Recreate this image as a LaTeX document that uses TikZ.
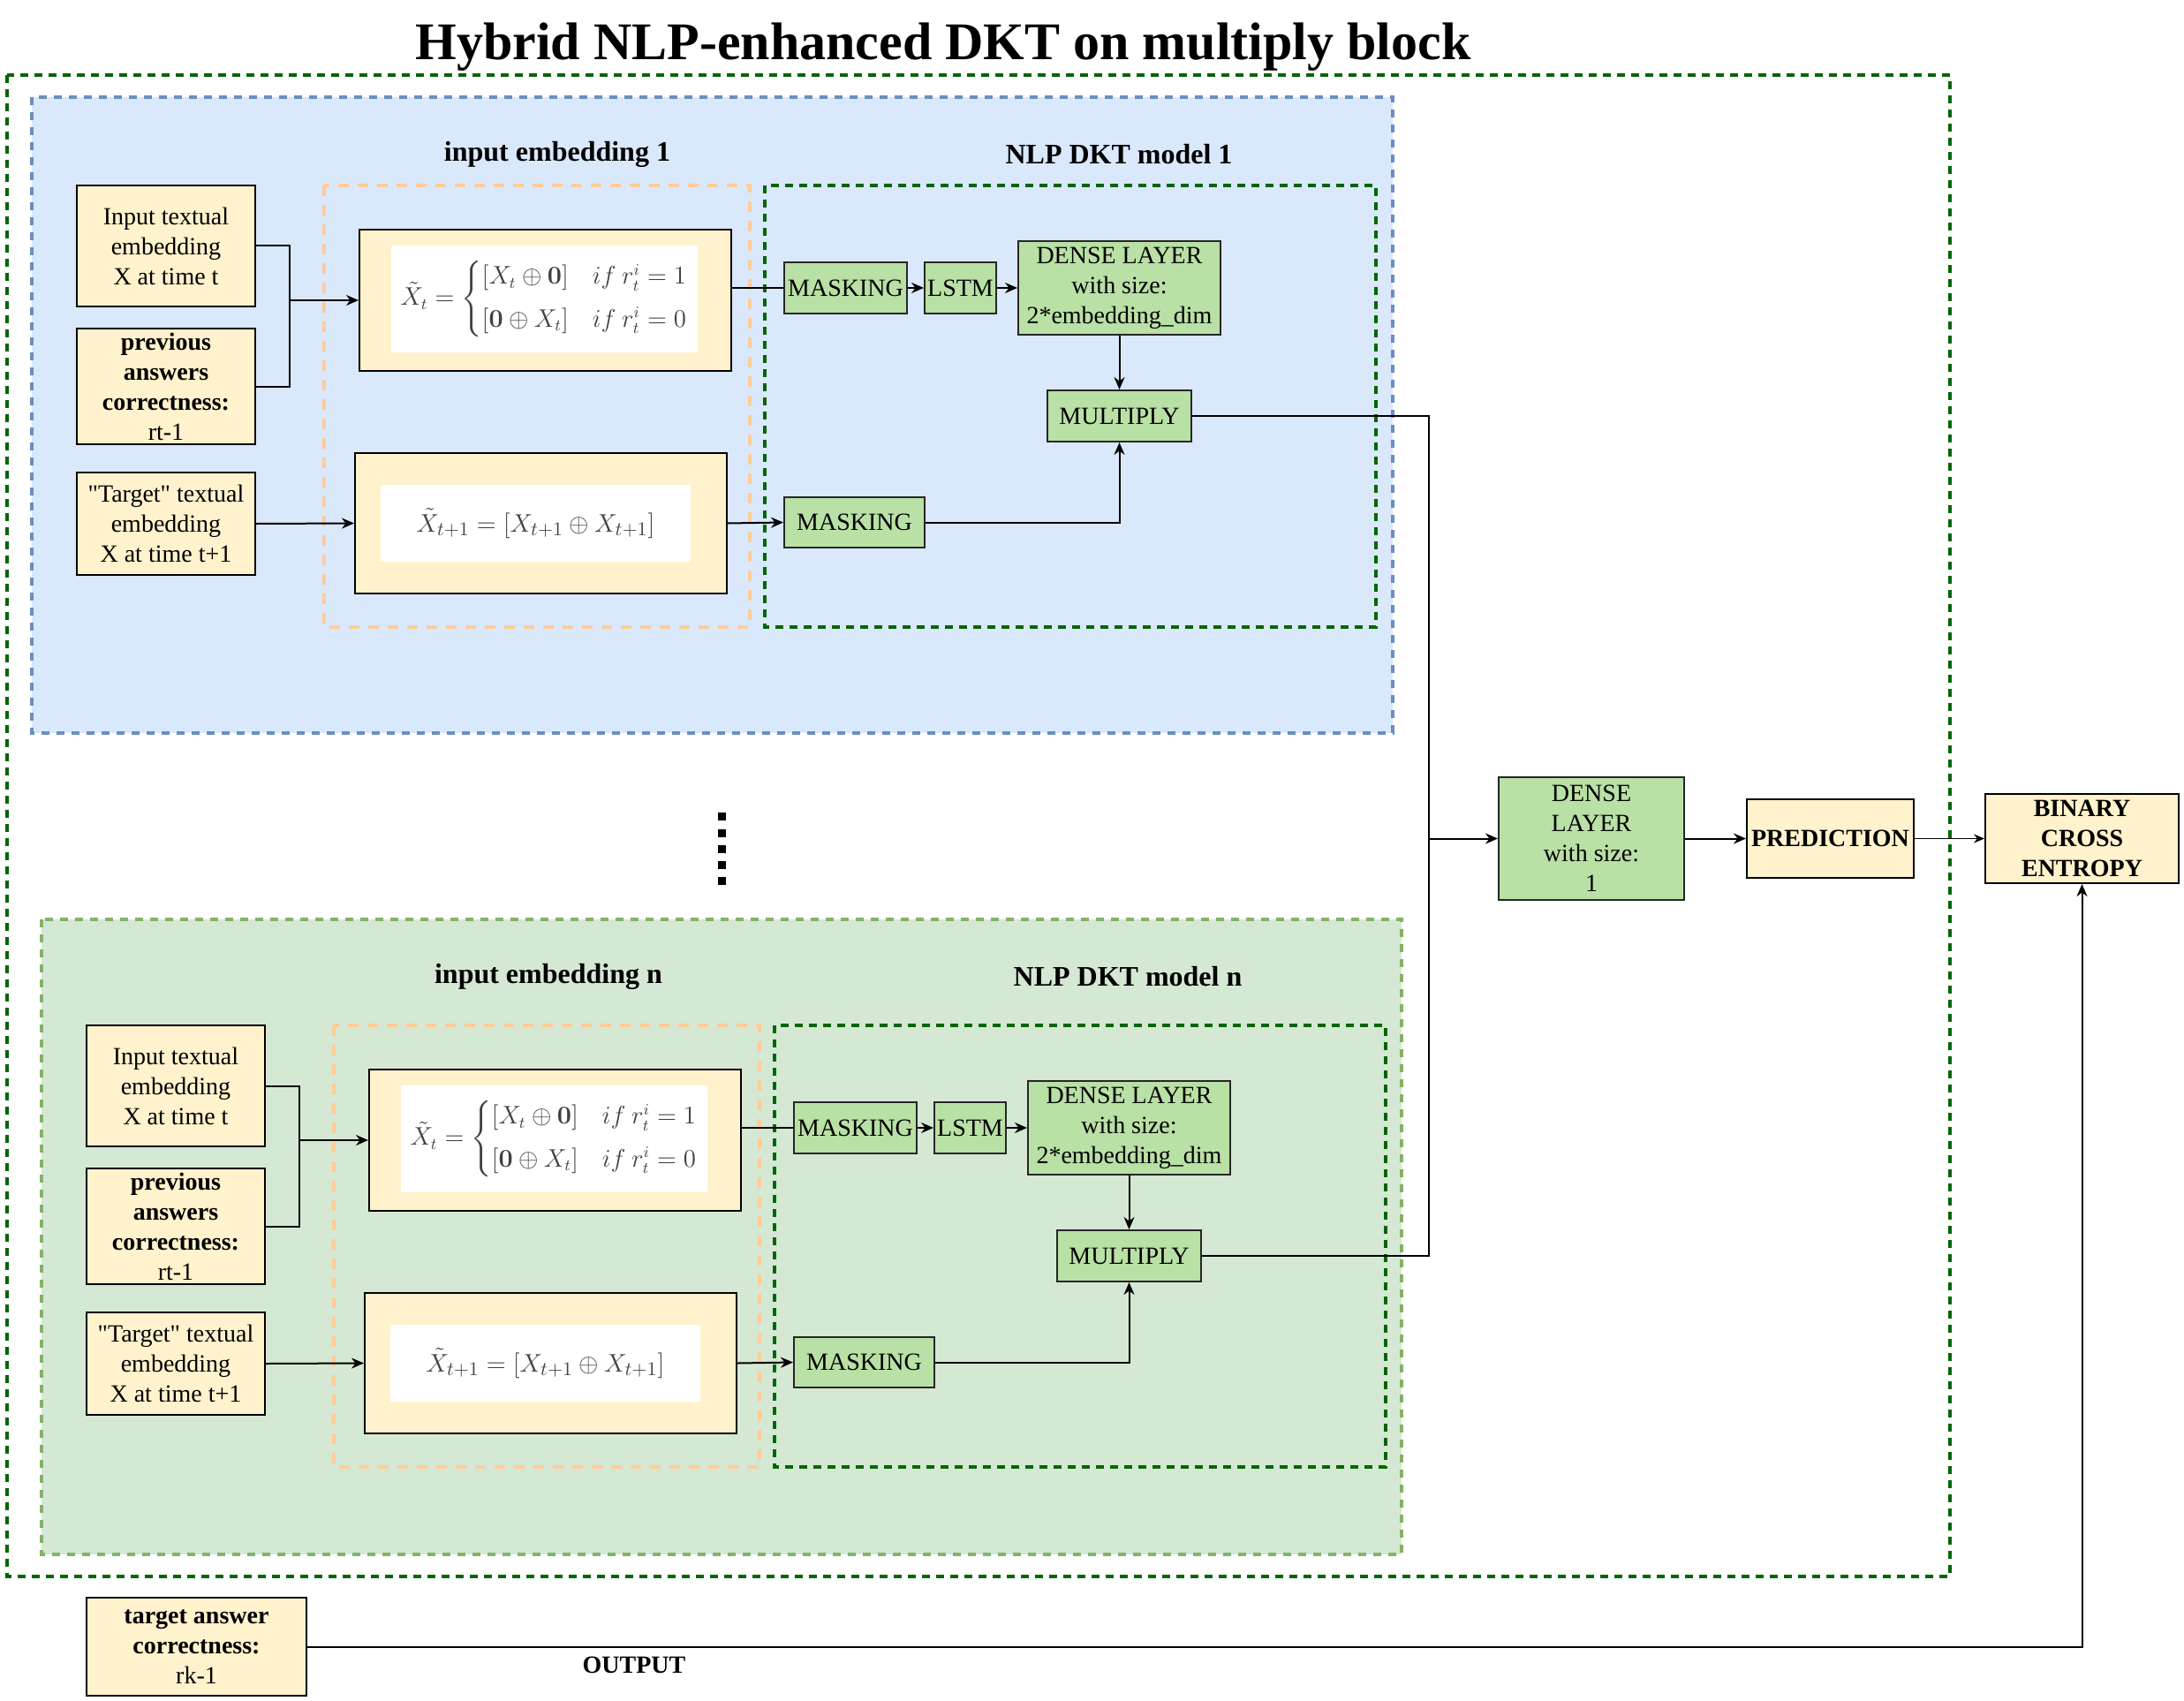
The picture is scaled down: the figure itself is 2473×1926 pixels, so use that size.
\documentclass[tikz,border=0pt]{standalone}
\usepackage[no-math]{fontspec}
\setmainfont{Liberation Serif}
\newfontfamily\qfont{Liberation Serif}
\usepackage{amsmath}
\usetikzlibrary{arrows.meta}
\definecolor{yfill}{HTML}{FFF2CC}
\definecolor{gfill}{HTML}{B9E0A5}
\definecolor{bluefill}{HTML}{DAE8FC}
\definecolor{bluestroke}{HTML}{6C8EBF}
\definecolor{greenfill}{HTML}{D5E8D4}
\definecolor{greenstroke}{HTML}{82B366}
\definecolor{orangestroke}{HTML}{FFCC99}
\definecolor{dkgreen}{HTML}{006600}
\tikzset{
  txt/.style={font=\fontsize{14}{17}\selectfont},
  ybox/.style={draw=black, line width=1pt, fill=yfill, align=center, inner sep=0pt, txt},
  gbox/.style={draw=black!85, line width=1pt, fill=gfill, align=center, inner sep=0pt, txt},
  wbox/.style={fill=white, inner sep=0pt, text=black!75, font=\fontsize{14}{17}\selectfont},
  arr/.style={-{Stealth[length=7pt,width=6pt]}, line width=1pt},
  ln/.style={line width=1pt},
  lbl/.style={font=\fontsize{16}{19}\selectfont\bfseries},
  outerdash/.style={line width=1.8pt, dash pattern=on 4.5pt off 3.5pt},
}
\newcommand{\dktblock}[3]{%
\begin{scope}[shift={(#2,#3)}]
  \draw[orangestroke, line width=1.6pt, dash pattern=on 6pt off 5pt] (367,210) rectangle (849,710);
  \draw[dkgreen, outerdash] (866,210) rectangle (1558,710);
  \node[ybox, minimum width=101pt, minimum height=68.5pt] (in#1) at (188,278.5) {Input textual\\embedding\\X at time t};
  \node[ybox, minimum width=101pt, minimum height=65.5pt] (prev#1) at (188,437.5) {\textbf{previous}\\\textbf{answers}\\\textbf{correctness:}\\rt-1};
  \node[ybox, minimum width=101pt, minimum height=58pt] (tgt#1) at (188,593) {{\qfont"}Target{\qfont"} textual\\embedding\\X at time t+1};
  \node[ybox, minimum width=210.5pt, minimum height=80pt] (fA#1) at (617.5,340) {};
  \node[wbox, minimum width=173.5pt, minimum height=60.5pt, font=\fontsize{13.5}{16}\selectfont] (fAi#1) at (616.5,338.5)
    {$\tilde{X}_t=\begin{cases}[X_t\oplus\mathbf{0}] & if\ r_t^i=1\\[5pt] [\mathbf{0}\oplus X_t] & if\ r_t^i=0\end{cases}$};
  \node[ybox, minimum width=210.5pt, minimum height=79.5pt] (fB#1) at (612.5,592.5) {};
  \node[wbox, minimum width=175.5pt, minimum height=43.5pt, font=\fontsize{15.5}{18}\selectfont] (fBi#1) at (606.5,592.5)
    {$\tilde{X}_{t+1}=[X_{t+1}\oplus X_{t+1}]$};
  \node[gbox, minimum width=69.5pt, minimum height=29pt] (mA#1) at (957.5,326) {MASKING};
  \node[gbox, minimum width=40.5pt, minimum height=29pt] (lstm#1) at (1087.5,326) {LSTM};
  \node[gbox, minimum width=114.5pt, minimum height=53pt] (dense#1) at (1267.5,326) {DENSE LAYER\\with size:\\2*embedding\_dim};
  \node[gbox, minimum width=81.5pt, minimum height=29pt] (mult#1) at (1267.5,471) {MULTIPLY};
  \node[gbox, minimum width=79.5pt, minimum height=28.5pt] (mB#1) at (967.5,591.5) {MASKING};
  \coordinate (j#1) at (328,340);
  \draw[ln] (in#1.east) -| (j#1);
  \draw[ln] (prev#1.east) -| (j#1);
  \draw[arr] (j#1) -- (fA#1.west);
  \draw[arr] (tgt#1.east) -- (fB#1.west);
  \draw[ln] (fA#1.east |- mA#1.west) -- (mA#1.west);
  \draw[arr] (mA#1.east) -- (lstm#1.west);
  \draw[arr] (lstm#1.east) -- (dense#1.west);
  \draw[arr] (dense#1.south) -- (mult#1.north);
  \draw[arr] (fB#1.east) -- (mB#1.west);
  \draw[arr] (mB#1.east) -| (mult#1.south);
\end{scope}}
\begin{document}
\begin{tikzpicture}[x=0.5pt,y=-0.5pt]
\fill[white] (0,0) rectangle (2473,1926);
\useasboundingbox (0,0) rectangle (2473,1926);
\node[font=\fontsize{30}{35}\selectfont\bfseries] (title) at (1068,53) {Hybrid NLP-enhanced DKT on multiply block};
\draw[dkgreen, outerdash] (8,85) rectangle (2208,1785);
% block 1 background
\draw[bluestroke, fill=bluefill, line width=1.6pt, dash pattern=on 4.5pt off 4pt] (36,110) rectangle (1577,830);
\node[lbl] (ie1) at (631,175) {input embedding 1};
\node[lbl] (nlp1) at (1267,175) {NLP DKT model 1};
% block n background
\draw[greenstroke, fill=greenfill, line width=1.6pt, dash pattern=on 4.5pt off 4pt] (47,1041) rectangle (1587,1760);
\node[lbl] (ien) at (621,1106) {input embedding n};
\node[lbl] (nlpn) at (1277,1106) {NLP DKT model n};
\dktblock{1}{0}{0}
\dktblock{n}{11}{951}
% dots
\foreach \yy in {924,943,961,979,997} \fill[black] (812.5,\yy-4.5) rectangle (821.5,\yy+4.5);
% right part
\node[gbox, minimum width=105pt, minimum height=69.5pt] (dfin) at (1802,949.5) {DENSE\\LAYER\\with size:\\1};
\node[ybox, minimum width=94.5pt, minimum height=44.5pt, font=\fontsize{14}{17}\selectfont\bfseries] (pred) at (2072.5,949.5) {PREDICTION};
\node[ybox, minimum width=109.5pt, minimum height=50.5pt, font=\fontsize{14}{17}\selectfont\bfseries] (bce) at (2357.5,949.5) {BINARY\\CROSS\\ENTROPY};
\node[ybox, minimum width=124.5pt, minimum height=55.5pt] (tac) at (222.5,1864.5) {\textbf{target answer}\\\textbf{correctness:}\\rk-1};
\node[font=\fontsize{14}{17}\selectfont\bfseries] (out) at (718,1885) {OUTPUT};
\coordinate (jr) at (1618,949.5);
\draw[ln] (mult1.east) -| (jr);
\draw[ln] (multn.east) -| (jr);
\draw[arr] (jr) -- (dfin.west);
\draw[arr] (dfin.east) -- (pred.west);
\draw[-{Stealth[length=6pt,width=5pt]}, line width=0.7pt] (pred.east) -- (bce.west);
\draw[arr] (tac.east) -| (bce.south);
\end{tikzpicture}
\end{document}
